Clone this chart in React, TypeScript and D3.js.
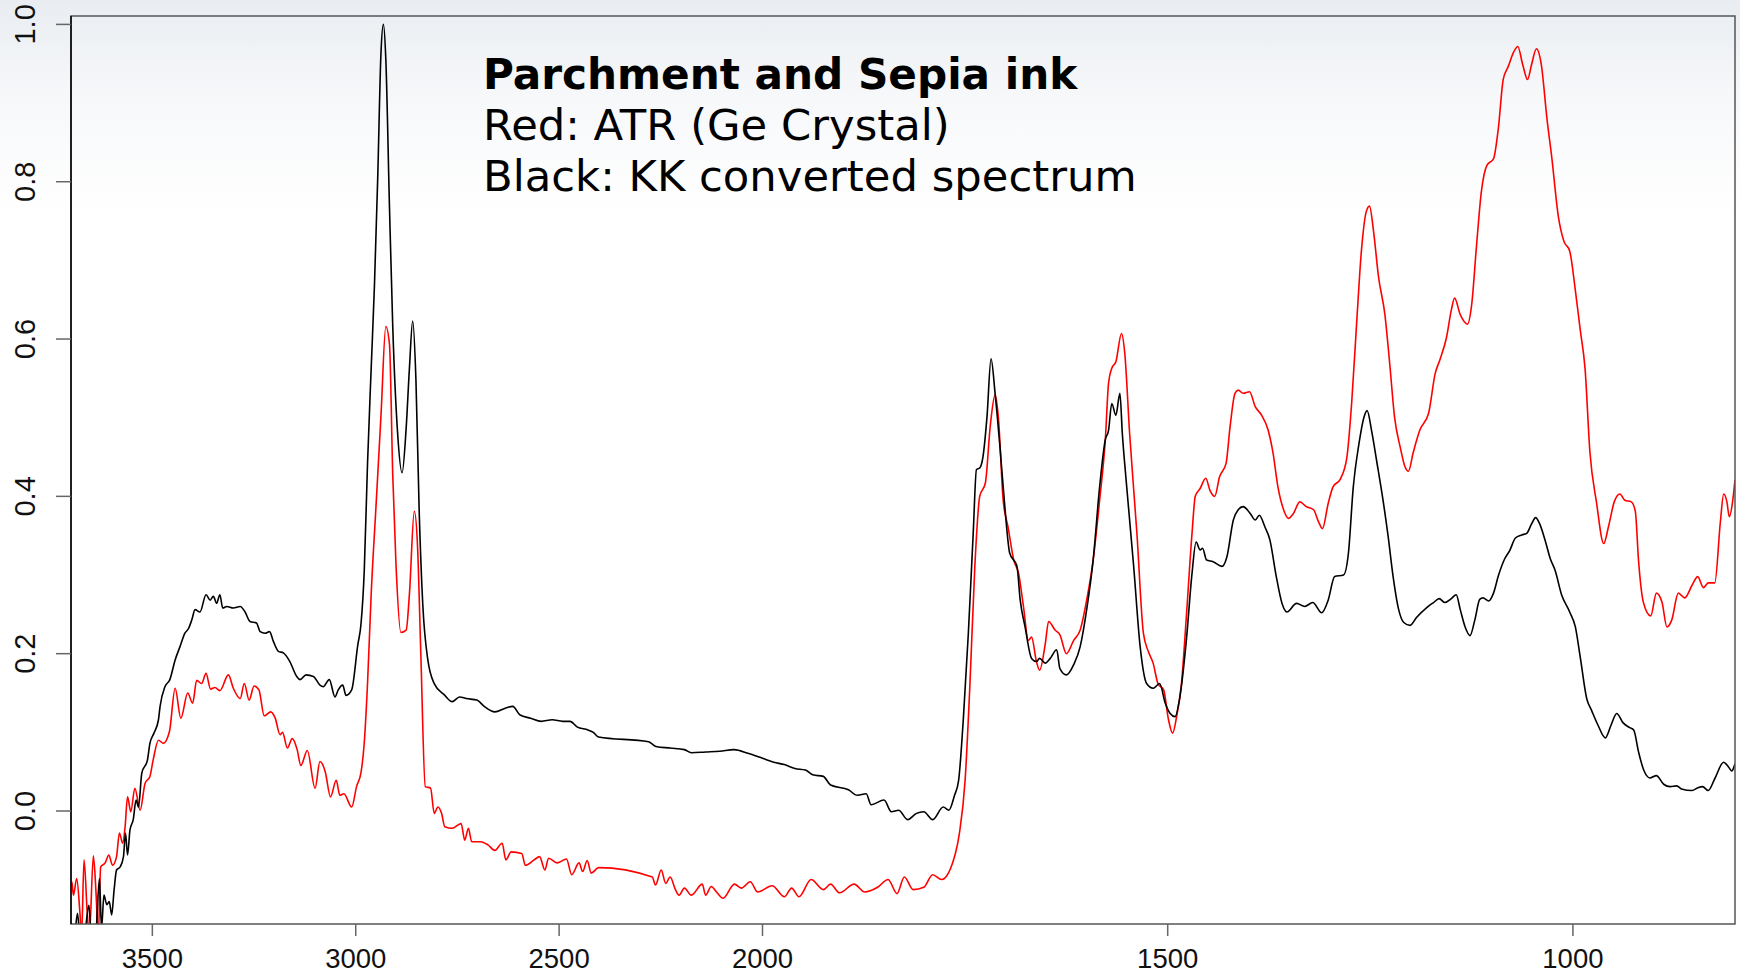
import React from 'react';
import * as d3 from 'd3';

// KK converted spectrum (black): [wavenumber cm-1, value]
const kkSpectrum: [number, number][] = [
  [3700,-0.16],[3692,-0.16],[3684,-0.13],[3678,-0.16],[3668,-0.16],[3656,-0.12],[3650,-0.16],[3640,-0.16],
  [3630,-0.086],[3625,-0.15],[3619,-0.107],[3612,-0.119],[3606,-0.115],[3600,-0.132],[3594,-0.100],[3588,-0.075],
  [3579,-0.071],[3571,-0.058],[3566,-0.028],[3561,-0.056],[3555,-0.024],[3547,-0.011],[3540,0.014],[3534,0.005],
  [3526,0.048],[3512,0.065],[3506,0.086],[3496,0.099],[3485,0.116],[3481,0.133],[3469,0.158],[3457,0.167],
  [3444,0.192],[3432,0.209],[3420,0.226],[3411,0.232],[3403,0.243],[3395,0.256],[3383,0.253],[3368,0.275],
  [3358,0.268],[3350,0.273],[3342,0.264],[3334,0.275],[3327,0.258],[3317,0.260],[3301,0.258],[3284,0.260],
  [3272,0.253],[3260,0.241],[3244,0.239],[3235,0.228],[3223,0.226],[3212,0.228],[3202,0.215],[3190,0.203],
  [3178,0.201],[3162,0.190],[3145,0.171],[3137,0.167],[3122,0.173],[3104,0.171],[3088,0.160],[3080,0.158],
  [3065,0.167],[3051,0.145],[3043,0.154],[3032,0.160],[3024,0.147],[3010,0.154],[2995,0.211],[2987,0.238],
  [2979,0.306],[2971,0.442],[2962,0.563],[2954,0.668],[2946,0.804],[2938,0.963],[2932,1.0],[2926,0.955],
  [2917,0.767],[2909,0.616],[2897,0.480],[2886,0.430],[2876,0.487],[2868,0.563],[2860,0.623],[2852,0.548],
  [2844,0.381],[2835,0.261],[2823,0.193],[2807,0.162],[2781,0.147],[2763,0.139],[2745,0.145],[2728,0.143],
  [2702,0.141],[2684,0.133],[2658,0.126],[2631,0.131],[2614,0.133],[2596,0.122],[2570,0.118],[2544,0.114],
  [2517,0.116],[2491,0.114],[2473,0.114],[2456,0.107],[2429,0.103],[2416,0.100],[2403,0.094],[2280,0.088],
  [2262,0.082],[2227,0.080],[2192,0.078],[2175,0.074],[2140,0.075],[2105,0.076],[2070,0.078],[2034,0.073],
  [2000,0.067],[1986,0.062],[1973,0.059],[1960,0.054],[1947,0.052],[1938,0.046],[1925,0.044],[1916,0.033],
  [1894,0.027],[1883,0.020],[1872,0.022],[1866,0.008],[1850,0.014],[1841,-0.001],[1832,0.001],[1821,-0.011],
  [1810,-0.003],[1801,-0.001],[1790,-0.011],[1777,0.005],[1770,0.001],[1763,0.020],[1758,0.039],[1752,0.120],
  [1746,0.226],[1740,0.353],[1736,0.434],[1732,0.436],[1728,0.450],[1723,0.501],[1718,0.575],[1713,0.531],
  [1707,0.463],[1701,0.387],[1695,0.328],[1686,0.311],[1682,0.268],[1676,0.234],[1668,0.194],[1662,0.190],
  [1658,0.194],[1651,0.188],[1645,0.194],[1637,0.205],[1633,0.181],[1625,0.173],[1616,0.186],[1608,0.209],
  [1600,0.256],[1592,0.319],[1584,0.412],[1577,0.472],[1573,0.484],[1569,0.518],[1564,0.503],[1559,0.531],
  [1556,0.480],[1551,0.417],[1542,0.311],[1534,0.209],[1526,0.162],[1518,0.156],[1510,0.162],[1503,0.137],
  [1497,0.124],[1491,0.120],[1485,0.145],[1477,0.217],[1470,0.302],[1465,0.342],[1460,0.332],[1457,0.334],
  [1452,0.319],[1444,0.317],[1433,0.311],[1427,0.323],[1419,0.370],[1413,0.383],[1407,0.387],[1398,0.378],
  [1392,0.370],[1387,0.376],[1380,0.361],[1374,0.345],[1366,0.298],[1359,0.264],[1353,0.253],[1341,0.264],
  [1331,0.260],[1321,0.265],[1310,0.252],[1302,0.268],[1294,0.298],[1283,0.300],[1277,0.328],[1271,0.412],
  [1264,0.467],[1258,0.500],[1254,0.509],[1248,0.481],[1242,0.444],[1234,0.393],[1228,0.349],[1222,0.299],
  [1215,0.256],[1209,0.240],[1201,0.236],[1193,0.246],[1180,0.259],[1172,0.265],[1165,0.270],[1158,0.265],
  [1150,0.270],[1144,0.275],[1139,0.256],[1133,0.234],[1127,0.223],[1121,0.243],[1115,0.269],[1111,0.271],
  [1104,0.267],[1098,0.277],[1092,0.299],[1084,0.321],[1078,0.331],[1071,0.347],[1063,0.351],[1057,0.353],
  [1051,0.365],[1046,0.373],[1041,0.365],[1034,0.343],[1028,0.321],[1022,0.306],[1014,0.275],[1004,0.253],
  [997,0.234],[991,0.196],[983,0.143],[977,0.128],[969,0.109],[960,0.093],[953,0.109],[946,0.124],
  [938,0.112],[930,0.106],[925,0.103],[919,0.075],[913,0.053],[905,0.042],[897,0.045],[888,0.034],
  [880,0.031],[872,0.032],[866,0.028],[853,0.026],[845,0.030],[840,0.031],[833,0.026],[825,0.041],
  [814,0.062],[808,0.056],[804,0.051],[800,0.060],
];

// ATR (Ge crystal) spectrum (red): [wavenumber cm-1, value]
const atrSpectrum: [number, number][] = [
  [3700,-0.095],[3698,-0.090],[3694,-0.107],[3686,-0.086],[3678,-0.130],[3674,-0.16],[3668,-0.062],[3660,-0.130],
  [3655,-0.16],[3645,-0.057],[3638,-0.109],[3633,-0.16],[3627,-0.071],[3616,-0.066],[3607,-0.056],[3598,-0.069],
  [3588,-0.058],[3581,-0.028],[3573,-0.041],[3567,-0.020],[3561,0.018],[3553,-0.001],[3543,0.029],[3530,0.001],
  [3518,0.035],[3506,0.044],[3498,0.065],[3485,0.090],[3473,0.086],[3458,0.101],[3444,0.156],[3430,0.118],
  [3413,0.150],[3401,0.137],[3391,0.166],[3379,0.162],[3368,0.175],[3357,0.155],[3346,0.157],[3334,0.153],
  [3313,0.173],[3301,0.156],[3284,0.143],[3274,0.162],[3262,0.141],[3250,0.159],[3238,0.154],[3225,0.121],
  [3209,0.126],[3198,0.118],[3186,0.097],[3180,0.100],[3168,0.080],[3156,0.092],[3144,0.078],[3135,0.058],
  [3119,0.077],[3100,0.029],[3088,0.063],[3075,0.050],[3062,0.018],[3048,0.039],[3039,0.020],[3029,0.022],
  [3010,0.005],[2998,0.031],[2987,0.049],[2979,0.087],[2971,0.162],[2962,0.276],[2950,0.389],[2938,0.502],
  [2926,0.616],[2917,0.593],[2909,0.427],[2901,0.313],[2889,0.227],[2876,0.230],[2868,0.276],[2856,0.381],
  [2848,0.336],[2840,0.200],[2829,0.031],[2816,0.029],[2807,-0.003],[2798,0.005],[2789,-0.003],[2781,-0.020],
  [2763,-0.022],[2741,-0.016],[2732,-0.037],[2723,-0.022],[2715,-0.039],[2693,-0.039],[2675,-0.043],[2658,-0.050],
  [2640,-0.041],[2631,-0.062],[2618,-0.052],[2592,-0.054],[2583,-0.069],[2561,-0.062],[2548,-0.058],[2535,-0.075],
  [2526,-0.060],[2504,-0.066],[2482,-0.061],[2469,-0.081],[2451,-0.066],[2442,-0.077],[2431,-0.063],[2421,-0.079],
  [2403,-0.072],[2271,-0.084],[2263,-0.094],[2249,-0.075],[2238,-0.092],[2227,-0.084],[2214,-0.100],[2205,-0.107],
  [2192,-0.098],[2175,-0.107],[2148,-0.093],[2140,-0.107],[2126,-0.096],[2113,-0.103],[2097,-0.111],[2069,-0.093],
  [2052,-0.098],[2030,-0.090],[2012,-0.103],[1988,-0.095],[1973,-0.109],[1964,-0.098],[1955,-0.109],[1940,-0.087],
  [1925,-0.100],[1916,-0.093],[1905,-0.104],[1887,-0.093],[1874,-0.103],[1858,-0.097],[1845,-0.087],[1834,-0.105],
  [1825,-0.084],[1814,-0.100],[1801,-0.097],[1790,-0.081],[1779,-0.087],[1762,-0.054],[1757,-0.028],[1750,0.039],
  [1744,0.162],[1738,0.311],[1732,0.400],[1725,0.417],[1719,0.489],[1713,0.529],[1709,0.501],[1703,0.395],
  [1697,0.361],[1690,0.319],[1684,0.302],[1678,0.260],[1672,0.217],[1668,0.221],[1662,0.190],[1658,0.179],
  [1651,0.213],[1647,0.241],[1639,0.230],[1633,0.224],[1625,0.200],[1616,0.217],[1608,0.230],[1600,0.268],
  [1592,0.319],[1584,0.395],[1577,0.472],[1573,0.544],[1569,0.563],[1564,0.571],[1557,0.607],[1553,0.582],
  [1547,0.480],[1538,0.353],[1530,0.226],[1524,0.203],[1518,0.188],[1512,0.162],[1505,0.154],[1499,0.116],
  [1494,0.099],[1489,0.120],[1483,0.162],[1477,0.247],[1470,0.353],[1466,0.400],[1460,0.410],[1453,0.423],
  [1448,0.408],[1442,0.400],[1436,0.425],[1428,0.442],[1423,0.489],[1417,0.531],[1413,0.535],[1407,0.531],
  [1399,0.533],[1392,0.514],[1384,0.503],[1376,0.484],[1370,0.455],[1364,0.412],[1357,0.383],[1351,0.372],
  [1345,0.378],[1337,0.393],[1329,0.387],[1320,0.383],[1314,0.368],[1309,0.359],[1302,0.391],[1296,0.412],
  [1287,0.422],[1279,0.449],[1273,0.519],[1267,0.618],[1261,0.712],[1255,0.762],[1251,0.769],[1246,0.737],
  [1240,0.680],[1232,0.631],[1226,0.568],[1220,0.500],[1213,0.462],[1207,0.437],[1203,0.432],[1197,0.456],
  [1189,0.484],[1178,0.506],[1170,0.556],[1164,0.574],[1156,0.602],[1150,0.637],[1146,0.652],[1139,0.631],
  [1130,0.619],[1125,0.643],[1119,0.718],[1113,0.787],[1106,0.821],[1098,0.829],[1092,0.868],[1086,0.930],
  [1080,0.946],[1073,0.965],[1068,0.972],[1062,0.949],[1056,0.930],[1051,0.949],[1045,0.969],[1039,0.949],
  [1032,0.880],[1026,0.830],[1018,0.756],[1011,0.724],[1004,0.712],[997,0.662],[991,0.612],[985,0.562],
  [979,0.456],[971,0.393],[962,0.340],[956,0.362],[949,0.393],[942,0.403],[936,0.395],[928,0.393],
  [923,0.381],[919,0.318],[913,0.265],[904,0.248],[897,0.277],[890,0.265],[884,0.234],[878,0.243],
  [870,0.277],[862,0.271],[853,0.287],[846,0.298],[839,0.284],[833,0.290],[825,0.290],[818,0.368],
  [814,0.403],[810,0.393],[807,0.374],[803,0.393],[800,0.421],
];

const xTicks = [3500, 3000, 2500, 2000, 1500, 1000];
const yTicks = [0.0, 0.2, 0.4, 0.6, 0.8, 1.0];
const titleText = 'Parchment and Sepia ink';
const subtitleLines = ['Red: ATR (Ge Crystal)', 'Black: KK converted spectrum'];

export default function App() {
  const W = 1740, H = 974;
  const left = 71, right = 1735, top = 16, bottom = 924;
  // compressed high-wavenumber region (above 2000) at half scale
  const x = d3.scaleLinear().domain([3700, 2000, 800]).range([left, 762.5, right]);
  const y = d3.scaleLinear().domain([0, 1]).range([811, 24.4]);
  const line = d3.line<[number, number]>().x(d => x(d[0])).y(d => y(d[1])).curve(d3.curveMonotoneX);
  const axisFont = '"Liberation Sans", Arial, sans-serif';
  const textFont = '"DejaVu Sans", Verdana, sans-serif';
  return (
    <svg width={W} height={H} style={{ position: 'absolute', left: 0, top: 0 }}>
      <defs>
        <linearGradient id="bg" x1="0" y1="0" x2="0" y2="1">
          <stop offset="0" stopColor="#e9edf1" />
          <stop offset="0.1" stopColor="#f7f8fa" />
          <stop offset="0.22" stopColor="#ffffff" />
          <stop offset="1" stopColor="#ffffff" />
        </linearGradient>
        <clipPath id="plotClip">
          <rect x={left} y={top} width={right - left} height={bottom - top} />
        </clipPath>
      </defs>
      <rect x={0} y={0} width={W} height={H} fill="url(#bg)" />
      <g clipPath="url(#plotClip)">
        <path d={line(atrSpectrum) || ''} fill="none" stroke="#ff0000" strokeWidth={1.6} strokeLinejoin="round" />
        <path d={line(kkSpectrum) || ''} fill="none" stroke="#000000" strokeWidth={1.6} strokeLinejoin="round" />
      </g>
      <rect x={left} y={top} width={right - left} height={bottom - top} fill="none" stroke="#555" strokeWidth={1.5} />
      <line x1={left} x2={left} y1={top} y2={bottom} stroke="#000" strokeWidth={1.5} />
      {yTicks.map(t => (
        <g key={'y' + t}>
          <line x1={left - 15} x2={left} y1={y(t)} y2={y(t)} stroke="#666" strokeWidth={1.5} />
          <text transform={`translate(35,${y(t)}) rotate(-90)`} textAnchor="middle" fontFamily={axisFont} fontSize={29} fill="#111">{t.toFixed(1)}</text>
        </g>
      ))}
      {xTicks.map(t => (
        <g key={'x' + t}>
          <line x1={x(t)} x2={x(t)} y1={bottom} y2={bottom + 12} stroke="#666" strokeWidth={1.5} />
          <text x={x(t)} y={968} textAnchor="middle" fontFamily={axisFont} fontSize={27.5} fill="#111">{t}</text>
        </g>
      ))}
      <text x={483} y={89} fontFamily={textFont} fontWeight="bold" fontSize={42.2} fill="#000">{titleText}</text>
      {subtitleLines.map((s, i) => (
        <text key={s} x={483} y={140 + i * 51} fontFamily={textFont} fontSize={43.3} fill="#000">{s}</text>
      ))}
    </svg>
  );
}
